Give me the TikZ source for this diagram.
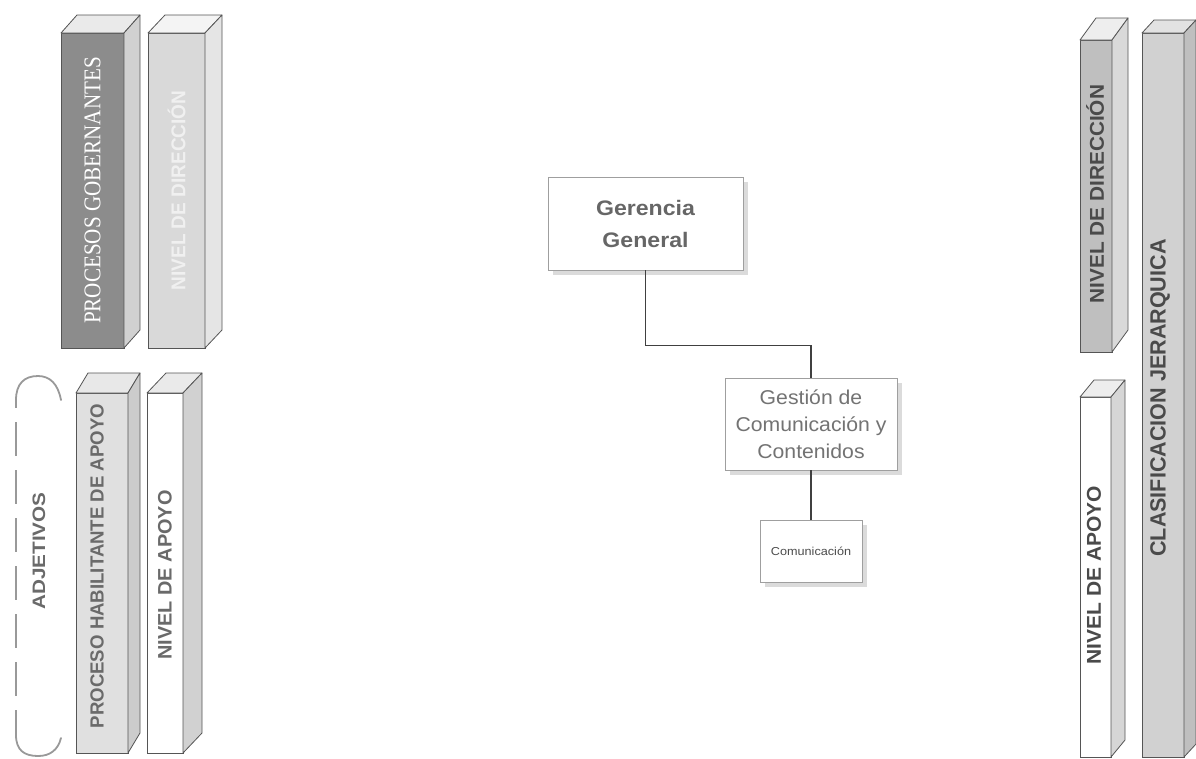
\documentclass[tikz,border=0pt]{standalone}
\usepackage{fontspec}
\setmainfont{Liberation Sans}
\newfontfamily\serifF{Liberation Serif}
\usetikzlibrary{shadows,calc}
\definecolor{edge}{HTML}{555555}
\definecolor{txtgray}{HTML}{6A6A6A}
\definecolor{txtdark}{HTML}{4A4A4A}
\tikzset{
  face/.style={draw=edge, line width=0.8pt, inner sep=0pt, outer sep=0pt},
  pedge/.style={draw=edge, line width=0.8pt, line join=round},
  vtext/.style={rotate=90, inner sep=0pt},
  orgbox/.style={draw=gray!75, line width=0.6pt, fill=white, inner sep=0pt,
    drop shadow={shadow xshift=5pt, shadow yshift=-5pt, fill=gray!35, opacity=0.8}},
  conn/.style={draw=black!75, line width=1.1pt},
  bracket/.style={draw=gray!80, line width=1.8pt, line cap=round},
}
% name, x, y, w, h, dx, dy, front, side
\newcommand\cuboid[9]{%
  \colorlet{cubside}{#9}%
  \node[face, fill=#8, minimum width=#4pt, minimum height=#5pt, anchor=north west] (#1) at (#2,#3) {};
  \draw[pedge, fill=cubside!45!white] (#1.north west) -- ++(#6,-#7) -- ([shift={(#6,-#7)}]#1.north east) -- (#1.north east) -- cycle;
  \draw[pedge, fill=cubside] (#1.north east) -- ++(#6,-#7) -- ([shift={(#6,-#7)}]#1.south east) -- (#1.south east) -- cycle;
}
\begin{document}
\begin{tikzpicture}[x=1pt, y=-1pt]
\useasboundingbox[fill=white] (0,0) rectangle (1196,758);

% left top
\cuboid{b1}{61}{33}{63}{315}{16}{18}{black!45}{black!18}
\cuboid{b2}{148}{33}{57}{315}{17}{18}{black!15}{black!10}
\node[vtext, text=white] (t1) at (b1.center) {\scalebox{0.88}[1]{\fontsize{24}{24}\selectfont\serifF PROCESOS GOBERNANTES}};
\node[vtext, text=white!94!black] (t2) at (b2.center) {\scalebox{0.95}[1]{\fontsize{20}{20}\selectfont\bfseries NIVEL DE DIRECCIÓN}};

% left bottom
\cuboid{b3}{76}{393}{52}{360}{12}{20}{black!12}{black!20}
\cuboid{b4}{147}{393}{36}{360}{19}{20}{white}{black!18}
\node[vtext, text=txtgray] (t3) at (97,566) {\scalebox{0.98}[1]{\fontsize{19}{19}\selectfont\bfseries PROCESO HABILITANTE DE APOYO}};
\node[vtext, text=txtgray] (t4) at (165,575) {\scalebox{1.02}[1]{\fontsize{19.5}{20}\selectfont\bfseries NIVEL DE APOYO}};

% bracket
\draw[bracket] (61,400) .. controls (58,384) and (50,376) .. (38,376)
  .. controls (24,376) and (16,384) .. (16,400) -- (16,735)
  .. controls (16,750) and (24,756) .. (38,756)
  .. controls (50,756) and (58,750) .. (61,738);
\draw[white, line width=3pt, dash pattern=on 14pt off 34pt] (16,408) -- (16,730);
\node[vtext, fill=white, inner xsep=4pt, inner ysep=2pt, text=txtgray] (adj) at (39,551) {\scalebox{1.15}[1]{\fontsize{18}{18}\selectfont\bfseries ADJETIVOS}};

% right
\cuboid{r1}{1080}{40}{32}{312}{16}{22}{black!25}{black!15}
\cuboid{r2}{1080}{397}{31}{360}{14}{17}{white}{black!16}
\cuboid{r3}{1142}{33}{42}{724}{12}{13}{black!18}{black!25}
\node[vtext, text=txtdark] (t5) at (1095,194) {\scalebox{1.04}[1]{\fontsize{20}{20}\selectfont\bfseries NIVEL DE DIRECCIÓN}};
\node[vtext, text=txtdark] (t6) at (1094,575) {\scalebox{1.05}[1]{\fontsize{20}{20}\selectfont\bfseries NIVEL DE APOYO}};
\node[vtext, text=txtdark] (t7) at (1160,398) {\scalebox{0.98}[1]{\fontsize{22}{22}\selectfont\bfseries CLASIFICACION JERARQUICA}};

% org chart
\node[orgbox, minimum width=195pt, minimum height=93pt, text=black!60, align=center,
  font=\fontsize{21}{32}\selectfont\bfseries] (gg) at (645.5,223.5)
  {\scalebox{1.1}[1]{Gerencia}\\\scalebox{1.1}[1]{General}};
\node[orgbox, minimum width=172pt, minimum height=92pt, text=black!55, align=center,
  font=\fontsize{20}{27}\selectfont] (gc) at (811,424)
  {\scalebox{1.06}[1]{Gestión de}\\\scalebox{1.06}[1]{Comunicación y}\\\scalebox{1.06}[1]{Contenidos}};
\node[orgbox, minimum width=102pt, minimum height=62pt, text=black!70,
  font=\fontsize{11.5}{12}\selectfont] (com) at (811,551)
  {\scalebox{1.1}[1]{Comunicación}};

\draw[conn] (gg.south) -- ++(0,75) -| (gc.north);
\draw[conn] (gc.south) -- (com.north);
\end{tikzpicture}
\end{document}
